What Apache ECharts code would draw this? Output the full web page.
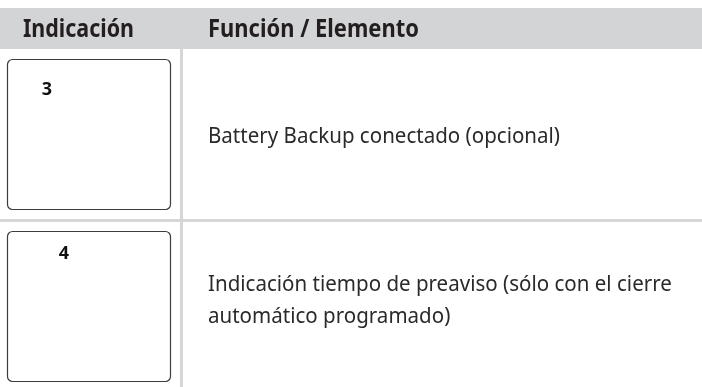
<!DOCTYPE html>
<html>
<head>
<meta charset="utf-8">
<script src="https://cdn.jsdelivr.net/npm/echarts@6/dist/echarts.min.js"></script>
<style>
html,body{margin:0;padding:0;background:#fff;}
#chart{width:702px;height:387px;}
</style>
</head>
<body>
<div id="chart"></div>
<script>
// ---- content ----
const headers = ['Indicación', 'Función / Elemento'];
const indicators = ['3', '4'];
const functionLines = [
  ['Battery Backup conectado (opcional)'],
  ['Indicación tiempo de preaviso (sólo con el cierre', 'automático programado)']
];

// ---- layout / style ----
const W = 702, H = 387;
const FONT = '"Noto Sans", "Open Sans", sans-serif';
const headerTop = 8, headerH = 41;
const colX = 180, colW = 3;
const rowTops = [49, 221];
const boxX = 7.5, boxW = 163, boxH = 150, boxOffset = 10.5;
const digitPos = [[47, 90], [64, 254]];
const headerTextX = [23, 208];
const headerWidths = [111, 211];
const headerCenter = 30;
const bodyX = 208;
const bodyRefWidth = 352;   // width of first body line in the reference
const bodyCenters = [[137], [285, 317]];
const bodySize = 22.5;

const cv = document.createElement('canvas').getContext('2d');
function measure(text, size, weight) {
  cv.font = weight + ' ' + size + 'px ' + FONT;
  return cv.measureText(text).width;
}
const bodyScale = bodyRefWidth / measure(functionLines[0][0], bodySize, 'normal');

const g = [];
g.push({type:'rect', shape:{x:0,y:headerTop,width:W,height:headerH}, style:{fill:'#d3d4d5'}, z:1});
g.push({type:'rect', shape:{x:colX,y:headerTop + headerH,width:colW,height:H}, style:{fill:'#d6d6d6'}, z:1});
g.push({type:'rect', shape:{x:0,y:rowTops[1]-2,width:W,height:3}, style:{fill:'#d6d6d6'}, z:1});

headers.forEach((t, i) => {
  const size = 25;
  const s = headerWidths[i] / measure(t, size, 'bold');
  g.push({type:'text', x: headerTextX[i], y: headerCenter, scaleX: s, scaleY: 1, z: 5,
    style:{text:t, x:0, y:0, fill:'#231f20', font:'bold ' + size + 'px ' + FONT,
      align:'left', verticalAlign:'middle'}});
});

indicators.forEach((d, i) => {
  g.push({type:'rect', shape:{x:boxX, y:rowTops[i] + boxOffset, width:boxW, height:boxH, r:5},
    style:{fill:'#fff', stroke:'#3c3c3c', lineWidth:1.2}, z:3});
  g.push({type:'text', x:digitPos[i][0], y:digitPos[i][1], z:5,
    style:{text:d, x:0, y:0, fill:'#111', font:'bold 18px ' + FONT, align:'center', verticalAlign:'middle'}});
});

functionLines.forEach((lines, i) => {
  lines.forEach((t, j) => {
    g.push({type:'text', x: bodyX, y: bodyCenters[i][j], scaleX: bodyScale, scaleY: 1, z: 5,
      style:{text:t, x:0, y:0, fill:'#2a2a2a', font: bodySize + 'px ' + FONT,
        align:'left', verticalAlign:'middle'}});
  });
});

const chart = echarts.init(document.getElementById('chart'), null, {renderer:'canvas'});
chart.setOption({backgroundColor:'#fff', animation:false, graphic: g});
</script>
</body>
</html>
